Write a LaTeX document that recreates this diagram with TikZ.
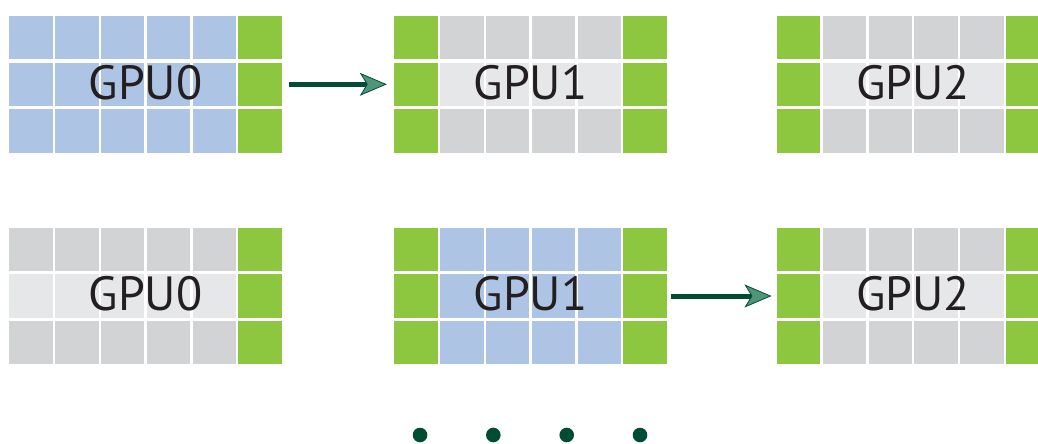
\documentclass[tikz,border=0pt]{standalone}
\usepackage{fontspec}
\setsansfont{PT Sans}
\usepackage{xcolor}
\usetikzlibrary{arrows.meta}
\definecolor{gpublue}{HTML}{AEC4E5}
\definecolor{gpugreen}{HTML}{8DC63F}
\definecolor{gpugray}{HTML}{D1D3D4}
\definecolor{gpulight}{HTML}{E6E7E8}
\definecolor{gputext}{HTML}{231F20}
\definecolor{arrowdark}{HTML}{004D33}
\definecolor{arrowfill}{HTML}{4F9579}

% #1 name, #2 top left corner, #3 column colours (outer/middle row), #4 label
\newcommand{\GPUBlock}[4]{%
  \begin{scope}[shift={#2}]
    \foreach \cc/\cm [count=\i from 0] in {#3}{
      \foreach \r in {0,1,2}{
        \ifnum\r=1 \def\cellcol{\cm}\else\def\cellcol{\cc}\fi
        \fill[\cellcol] (\i*45.8,\r*46.6) rectangle ++(43.4,43.4);
      }
    }
    \coordinate (#1-w) at (0,68.3);
    \coordinate (#1-e) at (272.4,68.3);
    \node[gpulabel] (#1) at (136.2,83) {#4};
  \end{scope}
}

\begin{document}
\begin{tikzpicture}[x=1pt,y=-1pt]
\tikzset{gpulabel/.style={anchor=base,inner sep=0pt,text=gputext,
    font=\sffamily\fontsize{48}{48}\selectfont}}
\tikzset{flow/.style={line width=5pt,draw=arrowdark,
    -{Stealth[length=27pt,width=23pt,inset=7pt,line width=0.8pt,fill=arrowfill]}}}
\tikzset{dot/.style={circle,fill=arrowdark,inner sep=0pt,minimum size=14.6pt}}
\useasboundingbox (0,0) rectangle (1038,444);
\clip (0,0) rectangle (1038,444);

\GPUBlock{top0}{(9.3,16)}{gpublue/gpublue,gpublue/gpublue,gpublue/gpublue,gpublue/gpublue,gpublue/gpublue,gpugreen/gpugreen}{GPU0}
\GPUBlock{top1}{(394.3,16)}{gpugreen/gpugreen,gpugray/gpulight,gpugray/gpulight,gpugray/gpulight,gpugray/gpulight,gpugreen/gpugreen}{GPU1}
\GPUBlock{top2}{(777,16)}{gpugreen/gpugreen,gpugray/gpulight,gpugray/gpulight,gpugray/gpulight,gpugray/gpulight,gpugreen/gpugreen}{GPU2}

\GPUBlock{bot0}{(9.3,227.7)}{gpugray/gpulight,gpugray/gpulight,gpugray/gpulight,gpugray/gpulight,gpugray/gpulight,gpugreen/gpugreen}{GPU0}
\GPUBlock{bot1}{(394.3,227.7)}{gpugreen/gpugreen,gpublue/gpublue,gpublue/gpublue,gpublue/gpublue,gpublue/gpublue,gpugreen/gpugreen}{GPU1}
\GPUBlock{bot2}{(777,227.7)}{gpugreen/gpugreen,gpugray/gpulight,gpugray/gpulight,gpugray/gpulight,gpugray/gpulight,gpugreen/gpugreen}{GPU2}

\draw[flow] ([xshift=7pt]top0-e) -- ([xshift=-7.5pt]top1-w);
\draw[flow] ([xshift=4.5pt]bot1-e) -- ([xshift=-5.5pt]bot2-w);

\foreach \k/\xx in {1/420,2/493.3,3/566.7,4/640}
  \node[dot] (dot\k) at (\xx,435) {};
\end{tikzpicture}
\end{document}
